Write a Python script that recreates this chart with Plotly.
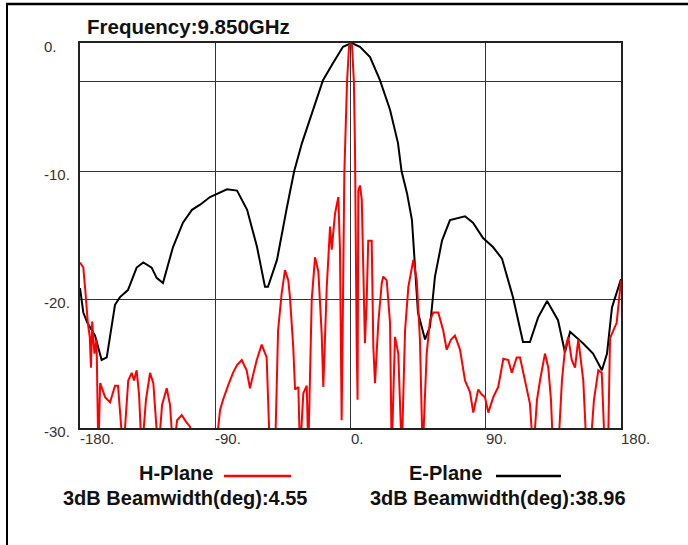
import plotly.graph_objects as go

# ---- data ----
E_ANGLE = [-180, -177.8, -175.1, -170.0, -165.6, -162.2, -156.7, -153.4, -148.1, -142.3,
           -137.9, -132.3, -129.0, -124.8, -118.1, -111.5, -105.5, -100.1, -93.5, -82.2,
           -75.5, -68.8, -62.2, -56.9, -54.9, -48.9, -42.3, -37.5, -32.3, -25.0,
           -18.3, -11.6, -5.0, 0.8, 6.3, 13.0, 19.6, 26.3, 31.6, 34.0,
           37.6, 40.9, 42.9, 44.9, 49.6, 52.9, 56.2, 60.9, 66.2, 76.2,
           81.5, 88.2, 94.8, 100.8, 108.1, 114.8, 119.4, 124.8, 130.8, 138.1,
           142.7, 146.1, 154.7, 161.4, 167.3, 170.7, 174.0, 179.4, 180]
E_GAIN = [-19.1, -21.0, -21.8, -22.8, -24.7, -24.5, -20.4, -19.8, -19.25, -17.5,
          -17.1, -17.5, -18.3, -18.7, -15.9, -14.0, -13.0, -12.6, -12.0, -11.4,
          -11.5, -13.0, -15.9, -19.0, -19.0, -16.9, -12.8, -10.0, -7.8, -5.2,
          -2.9, -1.56, -0.3, 0.0, -0.3, -1.1, -2.9, -5.2, -7.8, -10.0,
          -11.7, -13.8, -17.4, -21.0, -23.1, -22.1, -18.2, -15.4, -13.8, -13.5,
          -14.0, -15.2, -15.9, -16.8, -19.8, -23.3, -23.3, -21.4, -20.1, -21.6,
          -24.1, -22.5, -23.4, -24.2, -25.5, -24.2, -20.6, -18.5, -18.4]

H_ANGLE = [-180, -177.8, -176.3, -174.8, -173.5, -172.7, -171.9, -170.4, -169.0, -167.8,
           -166.6, -163.3, -160.0, -156.7, -154.7, -151.2, -147.9, -145.6, -144.1, -142.3,
           -140.7, -138.9, -136.1, -133.4, -131.2, -127.9, -125.4, -122.3, -120.1, -117.9,
           -115.4, -112.3, -109.5, -106.8, -103.5, -89.0, -86.8, -84.8, -81.5, -78.2,
           -75.5, -72.4, -69.1, -66.9, -64.9, -62.4, -59.1, -55.8, -53.6, -50.2,
           -48.2, -45.8, -43.6, -41.4, -40.3, -38.1, -36.9, -34.7, -33.6, -31.4,
           -29.1, -28.1, -25.8, -23.6, -21.4, -19.2, -18.1, -15.8, -13.6, -12.5,
           -10.3, -8.1, -7.0, -5.9, -5.0, -4.1, -2.3, -1.0, 0.0, 1.0,
           2.25, 3.0, 4.1, 4.7, 5.2, 6.3, 7.5, 8.5, 9.6, 10.8,
           11.8, 14.1, 15.2, 16.3, 18.5, 20.8, 21.8, 24.1, 26.3, 27.4,
           29.6, 31.8, 34.1, 36.3, 38.5, 41.8, 44.1, 46.2, 48.0, 50.7,
           52.9, 55.1, 58.4, 61.7, 64.0, 66.9, 69.5, 72.9, 76.2, 79.5,
           81.7, 85.0, 87.3, 89.5, 91.7, 95.0, 98.3, 101.7, 105.0, 107.3,
           110.6, 112.8, 116.1, 119.4, 121.6, 124.1, 126.1, 129.4, 131.6, 133.4,
           134.9, 138.1, 140.7, 142.7, 144.9, 147.2, 149.4, 151.6, 154.9, 157.2,
           159.4, 162.0, 164.9, 167.2, 169.3, 171.3, 172.7, 174.9, 177.1, 178.7,
           179.8, 180]
H_GAIN = [-17.1, -17.5, -19.5, -21.8, -22.9, -25.3, -21.7, -24.2, -23.1, -32,
          -26.5, -27.6, -28.0, -26.7, -26.7, -32, -26.3, -25.7, -26.3, -25.5,
          -27.4, -32, -27.8, -25.7, -26.5, -32, -28.2, -26.9, -28.2, -32,
          -29.4, -29.0, -29.5, -29.9, -31, -31, -28.6, -27.8, -26.7, -25.7,
          -25.1, -24.7, -25.5, -26.9, -25.9, -24.7, -23.5, -24.5, -32, -32,
          -22.4, -19.5, -17.7, -18.5, -19.8, -23.7, -27.0, -26.8, -32, -27.3,
          -26.7, -32, -20.0, -16.7, -17.8, -22.6, -26.8, -19.0, -14.3, -16.1,
          -13.3, -12.0, -16.1, -29.4, -20.0, -10.1, -3.0, -0.3, 0.0, -0.2,
          -3.0, -8.3, -23.4, -27.8, -11.5, -11.1, -12.2, -16.7, -23.4, -20.0,
          -15.4, -15.4, -23.7, -26.5, -21.8, -18.7, -18.2, -18.5, -21.8, -32,
          -22.9, -24.2, -32, -22.4, -19.0, -16.9, -18.5, -23.1, -32, -24.2,
          -21.6, -21.0, -21.0, -22.4, -23.9, -23.1, -22.8, -23.9, -26.3, -27.2,
          -28.8, -27.0, -27.4, -27.6, -28.8, -27.6, -26.8, -24.6, -24.7, -25.7,
          -24.5, -24.5, -26.3, -28.1, -32, -27.8, -26.3, -24.2, -25.3, -27.8,
          -32, -32, -26.3, -23.9, -22.9, -24.7, -25.3, -23.1, -26.3, -32,
          -32, -27.8, -25.5, -25.7, -32, -32, -23.0, -22.4, -21.8, -20.0,
          -18.6, -18.5]

X_TICKS = [-180, -90, 0, 90, 180]
X_TICK_TEXT = ["-180.", "-90.", "0.", "90.", "180."]
Y_TICKS = [0, -10, -20, -30]
Y_TICK_TEXT = ["0.", "-10.", "-20.", "-30."]
Y_GRID = [-30, -20, -10, -3, 0]

TITLE = "Frequency:9.850GHz"
H_NAME = "H-Plane"
E_NAME = "E-Plane"
H_BW = "3dB Beamwidth(deg):4.55"
E_BW = "3dB Beamwidth(deg):38.96"

FONT = "Liberation Sans, Arial, sans-serif"

# plot area geometry (pixels)
L, R, T, B = 80, 67, 43, 117
W, H = 688, 545
PW, PH = W - L - R, H - T - B


def px(x):
    return (x - L) / PW


def py(y):
    return (H - B - y) / PH


fig = go.Figure()
fig.add_trace(go.Scatter(x=E_ANGLE, y=E_GAIN, mode="lines", name=E_NAME,
                         line=dict(color="#000000", width=2), showlegend=False))
fig.add_trace(go.Scatter(x=H_ANGLE, y=H_GAIN, mode="lines", name=H_NAME,
                         line=dict(color="#ff0000", width=2), showlegend=False))

ann = []
tick_font = dict(family=FONT, size=15, color="#333333")
for v, t in zip(X_TICKS, X_TICK_TEXT):
    ann.append(dict(x=v, y=0, xref="x", yref="paper", text=t, showarrow=False,
                    xanchor="left", yanchor="top", yshift=0, xshift=-2, font=tick_font))
for v, t in zip(Y_TICKS, Y_TICK_TEXT):
    ann.append(dict(x=px(42), y=v, xref="paper", yref="y", text=t, showarrow=False,
                    xanchor="left", yanchor="middle", yshift=-3, font=tick_font))

big = dict(family=FONT, size=20, color="#111111", weight="bold")
ann.append(dict(x=px(188), y=py(27), xref="paper", yref="paper", text=TITLE,
                showarrow=False, xanchor="center", yanchor="middle",
                font=dict(family=FONT, size=20.5, color="#111111", weight="bold")))
ann.append(dict(x=px(176), y=py(473), xref="paper", yref="paper", text=H_NAME,
                showarrow=False, xanchor="center", yanchor="middle", font=big))
ann.append(dict(x=px(445.5), y=py(473), xref="paper", yref="paper", text=E_NAME,
                showarrow=False, xanchor="center", yanchor="middle", font=big))
ann.append(dict(x=px(184.5), y=py(498), xref="paper", yref="paper", text=H_BW,
                showarrow=False, xanchor="center", yanchor="middle", font=big))
ann.append(dict(x=px(498.3), y=py(498), xref="paper", yref="paper", text=E_BW,
                showarrow=False, xanchor="center", yanchor="middle", font=big))

shapes = [
    # legend line samples
    dict(type="line", xref="paper", yref="paper", x0=px(224), x1=px(291), y0=py(476), y1=py(476),
         line=dict(color="#ff0000", width=2.5)),
    dict(type="line", xref="paper", yref="paper", x0=px(496), x1=px(561), y0=py(476), y1=py(476),
         line=dict(color="#000000", width=2.5)),
    # outer frame (top and left)
    dict(type="line", xref="paper", yref="paper", x0=px(6), x1=px(688), y0=py(4), y1=py(4),
         line=dict(color="#000000", width=2.5)),
    dict(type="line", xref="paper", yref="paper", x0=px(7), x1=px(7), y0=py(3), y1=py(545),
         line=dict(color="#000000", width=2)),
]

fig.update_layout(
    width=W, height=H,
    margin=dict(l=L, r=R, t=T, b=B, pad=0),
    paper_bgcolor="#ffffff", plot_bgcolor="#ffffff",
    showlegend=False,
    annotations=ann, shapes=shapes,
    font=dict(family=FONT),
    xaxis=dict(range=[-180, 180], tickvals=X_TICKS, showticklabels=False, ticks="",
               showgrid=True, gridcolor="#333333", gridwidth=1, zeroline=False,
               showline=True, mirror=True, linecolor="#222222", linewidth=1.5),
    yaxis=dict(range=[-30, 0], tickvals=Y_GRID, showticklabels=False, ticks="",
               showgrid=True, gridcolor="#333333", gridwidth=1, zeroline=False,
               showline=True, mirror=True, linecolor="#222222", linewidth=1.5),
)

fig.write_html("out.html", config={"displayModeBar": False},
               post_script="document.body.style.margin='0';document.body.style.overflow='hidden';")
